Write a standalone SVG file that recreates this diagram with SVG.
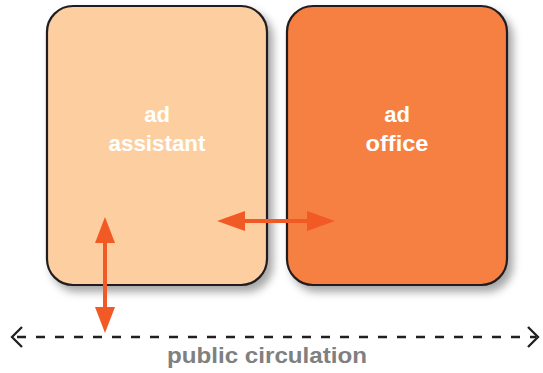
<svg xmlns="http://www.w3.org/2000/svg" width="543" height="373" viewBox="0 0 543 373">
<style>
.box{stroke:#231f20;stroke-width:2.2}
.lbl{font-family:"Liberation Sans",Arial,sans-serif;font-weight:bold;font-size:22px;fill:#ffffff;text-anchor:middle}
.arrow{stroke:#f15a24;stroke-width:4;fill:none}
.head{fill:#f15a24}
.dash{stroke:#231f20;stroke-width:2.3;stroke-dasharray:9 10;fill:none}
.chev{stroke:#231f20;stroke-width:2.3;fill:none}
.cap{font-family:"Liberation Sans",Arial,sans-serif;font-weight:bold;font-size:22px;fill:#808080;text-anchor:middle}
</style>
<defs>
<filter id="sh" x="-20%" y="-20%" width="150%" height="150%">
<feDropShadow dx="5" dy="6" stdDeviation="4" flood-color="#000" flood-opacity="0.35"/>
</filter>
</defs>
<g id="ad-assistant">
<rect class="box" x="47" y="6" width="220" height="279" rx="26" fill="#fdcfa0" filter="url(#sh)"/>
<text class="lbl" x="157" y="122">ad</text>
<text class="lbl" x="157" y="151" textLength="97" lengthAdjust="spacingAndGlyphs">assistant</text>
</g>
<g id="ad-office">
<rect class="box" x="287" y="6" width="220" height="279" rx="26" fill="#f68042" filter="url(#sh)"/>
<text class="lbl" x="397" y="122">ad</text>
<text class="lbl" x="397" y="151" textLength="63" lengthAdjust="spacingAndGlyphs">office</text>
</g>
<g id="connectors">
<line class="arrow" x1="240" y1="221" x2="312" y2="221"/>
<polygon class="head" points="217,221 245,211 245,231"/>
<polygon class="head" points="335,221 307,211 307,231"/>
<line class="arrow" x1="105" y1="238" x2="105" y2="312"/>
<polygon class="head" points="105,217 95,243 115,243"/>
<polygon class="head" points="105,333 95,307 115,307"/>
<line class="dash" x1="14" y1="337" x2="536" y2="337" stroke-dashoffset="-3"/>
<polyline class="chev" points="22,327 12,337 22,347"/>
<polyline class="chev" points="528,327 538,337 528,347"/>
</g>
<g id="public-circulation">
<text class="cap" x="267" y="363" textLength="200" lengthAdjust="spacingAndGlyphs">public circulation</text>
</g>
</svg>
